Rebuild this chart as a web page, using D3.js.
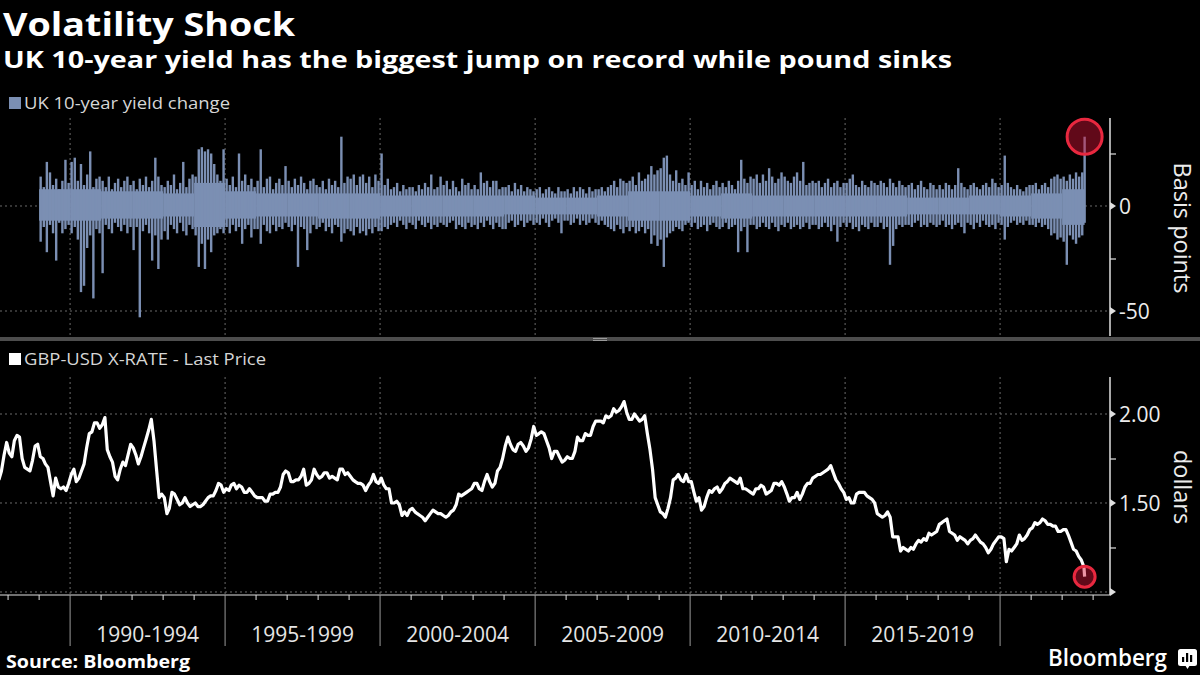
<!DOCTYPE html>
<html>
<head>
<meta charset="utf-8">
<script src="https://cdn.jsdelivr.net/npm/d3@7"></script>
<style>
  body { margin: 0; background: #000; }
  svg { display: block; }
  text { font-family: "Open Sans", "Noto Sans", sans-serif; }
</style>
</head>
<body>
<svg id="chart" width="1200" height="675"></svg>
<script>
// ---- data ----
// UK 10y yield daily change, summarised per tenth of a year: highest and lowest move (bp)
const yieldYears = [1989, 1990, 1991, 1992, 1993, 1994, 1995, 1996, 1997, 1998, 1999,
  2000, 2001, 2002, 2003, 2004, 2005, 2006, 2007, 2008, 2009, 2010, 2011, 2012,
  2013, 2014, 2015, 2016, 2017, 2018, 2019, 2020, 2021, 2022];

const yieldHigh = [
  [14, 9, 21, 16, 10, 13, 8, 12, 22, 11],     // 1989
  [21, 23, 12, 20, 10, 15, 26, 9, 13, 14],    // 1990
  [12, 9, 14, 8, 11, 13, 9, 12, 14, 10],      // 1991
  [12, 8, 13, 10, 14, 9, 12, 23, 14, 10],     // 1992
  [9, 12, 10, 15, 8, 11, 21, 9, 13, 15],      // 1993
  [14, 27, 28, 26, 27, 25, 20, 15, 12, 27],   // 1994
  [13, 10, 14, 9, 25, 12, 15, 10, 13, 9],     // 1995
  [12, 27, 9, 13, 14, 8, 11, 13, 10, 19],     // 1996
  [12, 9, 13, 10, 14, 11, 8, 12, 13, 10],     // 1997
  [9, 12, 8, 13, 10, 12, 9, 33, 11, 14],      // 1998
  [13, 15, 10, 14, 15, 11, 14, 9, 15, 12],    // 1999
  [25, 10, 13, 8, 9, 11, 7, 10, 8, 9],        // 2000
  [9, 7, 10, 8, 11, 9, 15, 8, 9, 14],         // 2001
  [10, 12, 8, 12, 9, 7, 13, 10, 11, 8],       // 2002
  [10, 8, 16, 11, 12, 9, 12, 12, 8, 9],       // 2003
  [9, 10, 7, 11, 8, 10, 7, 9, 8, 7],          // 2004
  [8, 9, 6, 8, 9, 7, 6, 9, 7, 7],             // 2005
  [8, 6, 9, 7, 9, 8, 6, 9, 7, 8],             // 2006
  [8, 9, 7, 9, 10, 12, 9, 13, 12, 11],        // 2007
  [12, 14, 10, 16, 12, 13, 15, 19, 15, 17],   // 2008
  [18, 23, 24, 15, 12, 17, 11, 13, 10, 16],   // 2009
  [10, 12, 8, 12, 9, 11, 8, 10, 12, 9],       // 2010
  [11, 9, 12, 10, 8, 12, 22, 13, 11, 14],     // 2011
  [13, 15, 11, 15, 12, 18, 14, 11, 13, 16],   // 2012
  [14, 12, 11, 14, 16, 12, 21, 10, 11, 12],   // 2013
  [11, 12, 9, 11, 13, 9, 11, 12, 9, 11],      // 2014
  [11, 13, 15, 10, 9, 12, 10, 9, 12, 11],     // 2015
  [10, 12, 11, 9, 13, 11, 9, 12, 10, 9],      // 2016
  [10, 11, 8, 10, 12, 9, 8, 11, 10, 8],       // 2017
  [10, 8, 11, 10, 8, 10, 18, 11, 9, 8],       // 2018
  [10, 11, 9, 8, 10, 11, 9, 13, 11, 9],       // 2019
  [10, 24, 11, 9, 8, 10, 8, 7, 9, 10],        // 2020
  [10, 11, 8, 10, 11, 9, 13, 14, 15, 13],     // 2021
  [14, 12, 15, 13, 16, 14, 16]                // 2022 (to Sep)
];

const yieldLow = [
  [-17, -10, -22, -9, -13, -26, -8, -13, -11, -9],
  [-13, -10, -16, -41, -38, -20, -14, -44, -11, -13],
  [-32, -9, -11, -13, -8, -10, -12, -9, -13, -10],
  [-21, -10, -53, -12, -9, -13, -26, -14, -30, -16],
  [-12, -16, -9, -11, -13, -8, -12, -14, -9, -11],
  [-14, -29, -18, -30, -16, -22, -14, -13, -11, -13],
  [-10, -13, -9, -12, -10, -18, -11, -9, -15, -11],
  [-11, -18, -9, -12, -13, -9, -12, -10, -11, -8],
  [-10, -12, -9, -29, -10, -11, -21, -13, -9, -11],
  [-10, -8, -12, -10, -13, -9, -10, -17, -13, -11],
  [-12, -14, -10, -13, -12, -14, -11, -13, -10, -12],
  [-12, -10, -11, -9, -8, -10, -7, -9, -11, -8],
  [-9, -11, -7, -9, -10, -8, -11, -9, -10, -8],
  [-9, -10, -8, -7, -11, -9, -10, -11, -8, -10],
  [-9, -11, -8, -10, -7, -9, -11, -8, -10, -11],
  [-11, -8, -7, -10, -9, -7, -10, -8, -7, -9],
  [-8, -9, -6, -8, -10, -7, -6, -8, -13, -7],
  [-7, -9, -8, -6, -9, -7, -9, -8, -6, -8],
  [-9, -7, -9, -10, -11, -12, -9, -11, -13, -10],
  [-12, -10, -13, -12, -10, -13, -11, -18, -14, -19],
  [-16, -29, -15, -13, -12, -10, -11, -12, -9, -8],
  [-10, -8, -11, -10, -9, -12, -9, -8, -10, -11],
  [-10, -8, -11, -10, -9, -22, -12, -10, -22, -9],
  [-9, -11, -10, -8, -10, -11, -8, -10, -12, -9],
  [-10, -8, -11, -10, -9, -11, -10, -8, -11, -9],
  [-9, -11, -10, -8, -10, -12, -9, -17, -10, -8],
  [-10, -8, -11, -10, -12, -9, -10, -11, -8, -10],
  [-10, -8, -11, -10, -28, -19, -11, -9, -10, -9],
  [-9, -10, -8, -7, -10, -9, -10, -8, -9, -10],
  [-9, -7, -10, -9, -11, -9, -8, -10, -13, -8],
  [-9, -11, -8, -10, -7, -9, -10, -9, -11, -8],
  [-9, -16, -10, -8, -7, -9, -8, -9, -7, -9],
  [-9, -10, -8, -10, -9, -11, -14, -13, -16, -15],
  [-17, -28, -14, -16, -18, -15, -14]
];

// dense core of the daily moves, per year (bp)
const coreHigh = [8, 8, 7, 7, 6, 11, 7, 6, 6, 6, 6, 5, 5, 5, 5, 5, 4, 4, 5, 7, 7, 5, 6, 5, 5, 5, 5, 5, 4, 4, 5, 5, 6, 8];
const coreLow = [-7, -7, -6, -6, -5, -10, -6, -5, -5, -6, -6, -5, -5, -5, -5, -4, -4, -4, -5, -7, -7, -5, -6, -5, -5, -5, -5, -5, -4, -4, -4, -5, -6, -9];

const lastDate = "2022-09-23";
const yieldLast = 33;

// GBP-USD, mid-month level, one row per year (Jan..Dec)
const fxYears = [1987, 1988, 1989, 1990, 1991, 1992, 1993, 1994, 1995, 1996, 1997, 1998,
  1999, 2000, 2001, 2002, 2003, 2004, 2005, 2006, 2007, 2008, 2009, 2010, 2011, 2012,
  2013, 2014, 2015, 2016, 2017, 2018, 2019, 2020, 2021, 2022];

const fxMonthly = [
  [null, null, null, null, null, null, null, null, 1.63, 1.68, 1.77, 1.84],
  [1.78, 1.76, 1.85, 1.88, 1.87, 1.75, 1.70, 1.69, 1.68, 1.74, 1.82, 1.83],
  [1.76, 1.75, 1.72, 1.70, 1.62, 1.54, 1.64, 1.59, 1.58, 1.59, 1.57, 1.61],
  [1.66, 1.69, 1.62, 1.64, 1.68, 1.72, 1.81, 1.89, 1.90, 1.95, 1.95, 1.92],
  [1.94, 1.98, 1.80, 1.76, 1.73, 1.65, 1.63, 1.69, 1.73, 1.71, 1.77, 1.83],
  [1.81, 1.77, 1.72, 1.76, 1.81, 1.86, 1.91, 1.97, 1.85, 1.69, 1.53, 1.55],
  [1.53, 1.44, 1.47, 1.56, 1.55, 1.52, 1.49, 1.50, 1.53, 1.50, 1.48, 1.49],
  [1.50, 1.48, 1.48, 1.49, 1.51, 1.53, 1.54, 1.54, 1.57, 1.61, 1.60, 1.56],
  [1.58, 1.57, 1.60, 1.61, 1.58, 1.60, 1.59, 1.56, 1.56, 1.58, 1.56, 1.54],
  [1.53, 1.53, 1.53, 1.51, 1.51, 1.55, 1.55, 1.56, 1.56, 1.59, 1.66, 1.68],
  [1.67, 1.62, 1.62, 1.63, 1.63, 1.65, 1.69, 1.60, 1.61, 1.63, 1.69, 1.66],
  [1.64, 1.65, 1.67, 1.67, 1.64, 1.65, 1.64, 1.63, 1.69, 1.69, 1.66, 1.67],
  [1.65, 1.63, 1.62, 1.61, 1.61, 1.60, 1.57, 1.60, 1.62, 1.66, 1.62, 1.61],
  [1.64, 1.60, 1.58, 1.58, 1.50, 1.50, 1.51, 1.49, 1.43, 1.45, 1.43, 1.46],
  [1.47, 1.45, 1.44, 1.43, 1.42, 1.40, 1.42, 1.44, 1.46, 1.45, 1.44, 1.44],
  [1.43, 1.42, 1.43, 1.45, 1.46, 1.49, 1.55, 1.54, 1.55, 1.56, 1.57, 1.58],
  [1.61, 1.61, 1.58, 1.57, 1.62, 1.66, 1.62, 1.59, 1.61, 1.68, 1.70, 1.75],
  [1.82, 1.87, 1.83, 1.80, 1.79, 1.83, 1.84, 1.82, 1.79, 1.81, 1.86, 1.93],
  [1.88, 1.89, 1.90, 1.89, 1.85, 1.81, 1.75, 1.79, 1.79, 1.76, 1.73, 1.74],
  [1.76, 1.75, 1.75, 1.79, 1.87, 1.85, 1.85, 1.89, 1.88, 1.88, 1.93, 1.96],
  [1.96, 1.96, 1.95, 1.99, 1.98, 1.99, 2.03, 2.01, 2.02, 2.04, 2.07, 2.01],
  [1.97, 1.97, 2.00, 1.98, 1.96, 1.97, 1.99, 1.89, 1.80, 1.69, 1.53, 1.49],
  [1.45, 1.44, 1.42, 1.47, 1.53, 1.63, 1.64, 1.66, 1.63, 1.62, 1.66, 1.62],
  [1.62, 1.56, 1.51, 1.53, 1.46, 1.48, 1.53, 1.57, 1.56, 1.58, 1.59, 1.56],
  [1.58, 1.61, 1.62, 1.64, 1.63, 1.62, 1.61, 1.64, 1.58, 1.58, 1.57, 1.56],
  [1.55, 1.58, 1.58, 1.60, 1.59, 1.55, 1.56, 1.57, 1.61, 1.61, 1.60, 1.62],
  [1.59, 1.55, 1.51, 1.53, 1.53, 1.56, 1.52, 1.55, 1.59, 1.61, 1.61, 1.64],
  [1.65, 1.66, 1.66, 1.67, 1.68, 1.69, 1.71, 1.67, 1.63, 1.61, 1.58, 1.56],
  [1.52, 1.53, 1.50, 1.50, 1.55, 1.56, 1.56, 1.56, 1.54, 1.53, 1.52, 1.50],
  [1.44, 1.43, 1.42, 1.43, 1.45, 1.42, 1.31, 1.31, 1.31, 1.23, 1.25, 1.24],
  [1.23, 1.25, 1.24, 1.27, 1.29, 1.28, 1.30, 1.29, 1.33, 1.32, 1.33, 1.34],
  [1.38, 1.39, 1.40, 1.41, 1.34, 1.33, 1.32, 1.29, 1.31, 1.30, 1.29, 1.27],
  [1.29, 1.30, 1.32, 1.30, 1.28, 1.27, 1.25, 1.22, 1.24, 1.27, 1.29, 1.31],
  [1.31, 1.30, 1.17, 1.24, 1.23, 1.25, 1.27, 1.32, 1.29, 1.30, 1.32, 1.35],
  [1.36, 1.39, 1.38, 1.39, 1.41, 1.40, 1.38, 1.38, 1.37, 1.37, 1.34, 1.34],
  [1.35, 1.35, 1.32, 1.28, 1.24, 1.23, 1.20, 1.18, 1.14]
];
const fxLast = 1.0857;

const periodLabels = ["1990-1994", "1995-1999", "2000-2004", "2005-2009", "2010-2014", "2015-2019"];

// ---- layout ----
const svg = d3.select("#chart");
const plotRight = 1110;
const barColor = "#7b8fb3";
const gridColor = "#6a6a6a";
const parse = d3.timeParse("%Y-%m-%d");
const endDate = parse(lastDate);

const x = d3.scaleTime()
  .domain([new Date(1987, 8, 28), new Date(2023, 6, 19)])
  .range([0, plotRight]);

const topPanel = { top: 118, bottom: 336 };
const botPanel = { top: 377, bottom: 595 };

const yTop = d3.scaleLinear().domain([-61.9, 41.9]).range([topPanel.bottom, topPanel.top]);
const yBot = d3.scaleLinear().domain([0.983, 2.208]).range([botPanel.bottom, botPanel.top]);

svg.append("rect").attr("width", 1200).attr("height", 675).attr("fill", "#000");

const defs = svg.append("defs");
[["clipTop", topPanel], ["clipBot", botPanel]].forEach(([id, p]) => {
  defs.append("clipPath").attr("id", id)
    .append("rect").attr("x", 0).attr("y", p.top - 20)
    .attr("width", plotRight).attr("height", p.bottom - p.top + 20);
});

// ---- titles ----
svg.append("text").attr("x", 3).attr("y", 36)
  .attr("fill", "#fff").attr("font-size", 33).attr("font-weight", 700)
  .attr("textLength", 292).attr("lengthAdjust", "spacingAndGlyphs")
  .text("Volatility Shock");
svg.append("text").attr("x", 3).attr("y", 68)
  .attr("fill", "#fff").attr("font-size", 24).attr("font-weight", 700)
  .attr("textLength", 949).attr("lengthAdjust", "spacingAndGlyphs")
  .text("UK 10-year yield has the biggest jump on record while pound sinks");

// legends
svg.append("rect").attr("x", 9).attr("y", 97).attr("width", 12).attr("height", 12).attr("fill", barColor);
svg.append("text").attr("x", 24).attr("y", 109).attr("fill", "#d6d6d6").attr("font-size", 17)
  .attr("textLength", 206).attr("lengthAdjust", "spacingAndGlyphs")
  .text("UK 10-year yield change");
svg.append("rect").attr("x", 9).attr("y", 353).attr("width", 12).attr("height", 12).attr("fill", "#fff");
svg.append("text").attr("x", 24).attr("y", 365).attr("fill", "#d6d6d6").attr("font-size", 17)
  .attr("textLength", 242).attr("lengthAdjust", "spacingAndGlyphs")
  .text("GBP-USD X-RATE - Last Price");

// ---- grids ----
const years = d3.timeYear.range(new Date(1988, 0, 1), new Date(2024, 0, 1)).filter(d => x(d) <= plotRight);
const majors = years.filter(d => d.getFullYear() % 5 === 0);

[topPanel, botPanel].forEach(p => {
  svg.append("g").selectAll("line").data(majors).join("line")
    .attr("x1", d => x(d)).attr("x2", d => x(d))
    .attr("y1", p.top).attr("y2", p.bottom)
    .attr("stroke", gridColor).attr("stroke-width", 1).attr("stroke-dasharray", "2,3");
});

svg.append("g").selectAll("line").data([0, -50]).join("line")
  .attr("x1", 0).attr("x2", plotRight)
  .attr("y1", d => yTop(d)).attr("y2", d => yTop(d))
  .attr("stroke", gridColor).attr("stroke-dasharray", "2,3");
svg.append("g").selectAll("line").data([1.0, 1.5, 2.0]).join("line")
  .attr("x1", 0).attr("x2", plotRight)
  .attr("y1", d => yBot(d)).attr("y2", d => yBot(d))
  .attr("stroke", gridColor).attr("stroke-dasharray", "2,3");

// ---- top panel: yield change bars ----
const gTop = svg.append("g").attr("clip-path", "url(#clipTop)");

const coreRects = yieldYears.map((yr, i) => ({
  x0: x(new Date(yr, 0, 1)),
  x1: Math.min(x(new Date(yr + 1, 0, 1)), x(endDate)),
  hi: coreHigh[i], lo: coreLow[i]
}));
gTop.selectAll("rect.core").data(coreRects).join("rect")
  .attr("class", "core")
  .attr("x", d => d.x0).attr("width", d => d.x1 - d.x0)
  .attr("y", d => yTop(d.hi)).attr("height", d => yTop(d.lo) - yTop(d.hi))
  .attr("fill", barColor);

const periods = [];
yieldYears.forEach((yr, i) => {
  yieldHigh[i].forEach((h, k) => {
    periods.push({ date: new Date(yr, 0, 1 + Math.round(36.5 * k + 18)), hi: h, lo: yieldLow[i][k] });
  });
});
gTop.selectAll("rect.spike").data(periods).join("rect")
  .attr("class", "spike")
  .attr("x", d => x(d.date) - 1.2).attr("width", 2.4)
  .attr("y", d => yTop(d.hi)).attr("height", d => yTop(d.lo) - yTop(d.hi))
  .attr("fill", barColor);

gTop.append("rect")
  .attr("x", x(endDate) - 1.2).attr("width", 2.4)
  .attr("y", yTop(yieldLast)).attr("height", yTop(-8) - yTop(yieldLast))
  .attr("fill", barColor);

// ---- bottom panel: GBP-USD line ----
const fxPoints = [];
fxYears.forEach((yr, i) => {
  fxMonthly[i].forEach((v, m) => {
    if (v != null) fxPoints.push({ date: new Date(yr, m, 15), value: v });
  });
});
fxPoints.push({ date: endDate, value: fxLast });

const gBot = svg.append("g").attr("clip-path", "url(#clipBot)");
gBot.append("path").datum(fxPoints)
  .attr("fill", "none").attr("stroke", "#fff").attr("stroke-width", 3.2)
  .attr("stroke-linejoin", "round")
  .attr("d", d3.line().x(d => x(d.date)).y(d => yBot(d.value)));

// ---- highlight circles ----
svg.append("circle").attr("cx", x(endDate)).attr("cy", yTop(yieldLast)).attr("r", 17.5)
  .attr("fill", "rgba(215,20,55,0.45)").attr("stroke", "#e8283f").attr("stroke-width", 3);
svg.append("circle").attr("cx", x(endDate)).attr("cy", yBot(fxLast)).attr("r", 10.5)
  .attr("fill", "rgba(215,20,55,0.45)").attr("stroke", "#e8283f").attr("stroke-width", 3);

// ---- right axes ----
function rightAxis(scale, p, values, labelled, fmt) {
  const g = svg.append("g").attr("transform", `translate(${plotRight},0)`);
  g.call(d3.axisRight(scale).tickValues(values).tickSize(6).tickSizeOuter(0).tickFormat(""));
  g.select(".domain").attr("stroke", "#e0e0e0").attr("stroke-width", 1.5)
    .attr("d", `M0,${p.top}V${p.bottom}`);
  g.selectAll(".tick line").attr("stroke", "#e0e0e0").attr("stroke-width", 1.2);
  g.selectAll(".tick").filter(d => labelled.includes(d)).select("line").remove();
  g.selectAll("path.arrow").data(labelled).join("path")
    .attr("class", "arrow")
    .attr("d", d => `M0,${scale(d) - 4}L6,${scale(d)}L0,${scale(d) + 4}Z`)
    .attr("fill", "#e0e0e0");
  g.selectAll("text.lbl").data(labelled.filter(d => fmt(d) !== "")).join("text")
    .attr("class", "lbl")
    .attr("x", 9).attr("y", d => scale(d)).attr("dy", "0.36em")
    .attr("fill", "#ececec").attr("font-size", 21)
    .text(fmt);
}
rightAxis(yTop, topPanel, [-50, -25, 0, 25], [-50, 0], d => String(d));
rightAxis(yBot, botPanel, [1.0, 1.25, 1.5, 1.75, 2.0], [1.0, 1.5, 2.0], d => d === 1.0 ? "" : d3.format(".2f")(d));

svg.append("text").attr("transform", "translate(1174,228) rotate(90)")
  .attr("text-anchor", "middle").attr("fill", "#ececec").attr("font-size", 23.5)
  .text("Basis points");
svg.append("text").attr("transform", "translate(1174,487) rotate(90)")
  .attr("text-anchor", "middle").attr("fill", "#ececec").attr("font-size", 23.5)
  .text("dollars");

// ---- bottom time axis ----
const gx = svg.append("g");
gx.append("line").attr("x1", 0).attr("x2", plotRight).attr("y1", 595).attr("y2", 595)
  .attr("stroke", "#e0e0e0").attr("stroke-width", 1.2);
gx.selectAll("line.minor").data(years).join("line")
  .attr("class", "minor")
  .attr("x1", d => x(d)).attr("x2", d => x(d))
  .attr("y1", 595).attr("y2", d => d.getFullYear() % 5 === 0 ? 646 : 600)
  .attr("stroke", d => d.getFullYear() % 5 === 0 ? "#9a9a9a" : "#e0e0e0").attr("stroke-width", 1);
gx.selectAll("text").data(periodLabels).join("text")
  .attr("x", d => {
    const y0 = +d.slice(0, 4);
    return (x(new Date(y0, 0, 1)) + x(new Date(y0 + 5, 0, 1))) / 2;
  })
  .attr("y", 642).attr("text-anchor", "middle")
  .attr("fill", "#e6e6e6").attr("font-size", 21)
  .text(d => d);

// ---- panel separator ----
svg.append("rect").attr("x", 0).attr("y", 337).attr("width", 1200).attr("height", 4).attr("fill", "#4d4d4d");
svg.append("line").attr("x1", 593).attr("x2", 607).attr("y1", 338.5).attr("y2", 338.5).attr("stroke", "#9a9a9a");
svg.append("line").attr("x1", 593).attr("x2", 607).attr("y1", 340.5).attr("y2", 340.5).attr("stroke", "#9a9a9a");

// ---- footer ----
svg.append("text").attr("x", 6).attr("y", 668)
  .attr("fill", "#fff").attr("font-size", 18).attr("font-weight", 700)
  .attr("textLength", 184).attr("lengthAdjust", "spacingAndGlyphs")
  .text("Source: Bloomberg");
svg.append("text").attr("x", 1048).attr("y", 666)
  .attr("fill", "#fff").attr("font-size", 23).attr("font-weight", 600)
  .attr("textLength", 119).attr("lengthAdjust", "spacingAndGlyphs")
  .text("Bloomberg");
const logo = svg.append("g").attr("transform", "translate(1178,649)");
logo.append("rect").attr("width", 19).attr("height", 17).attr("rx", 2.5).attr("fill", "#fff");
logo.append("path").attr("d", "M7,16L9.5,20L12,16Z").attr("fill", "#fff");
[[4, 8, 5], [8, 4, 9], [12, 6, 7]].forEach(([bx, by, bh]) => {
  logo.append("rect").attr("x", bx).attr("y", by).attr("width", 2.2).attr("height", bh).attr("fill", "#000");
});
</script>
</body>
</html>
